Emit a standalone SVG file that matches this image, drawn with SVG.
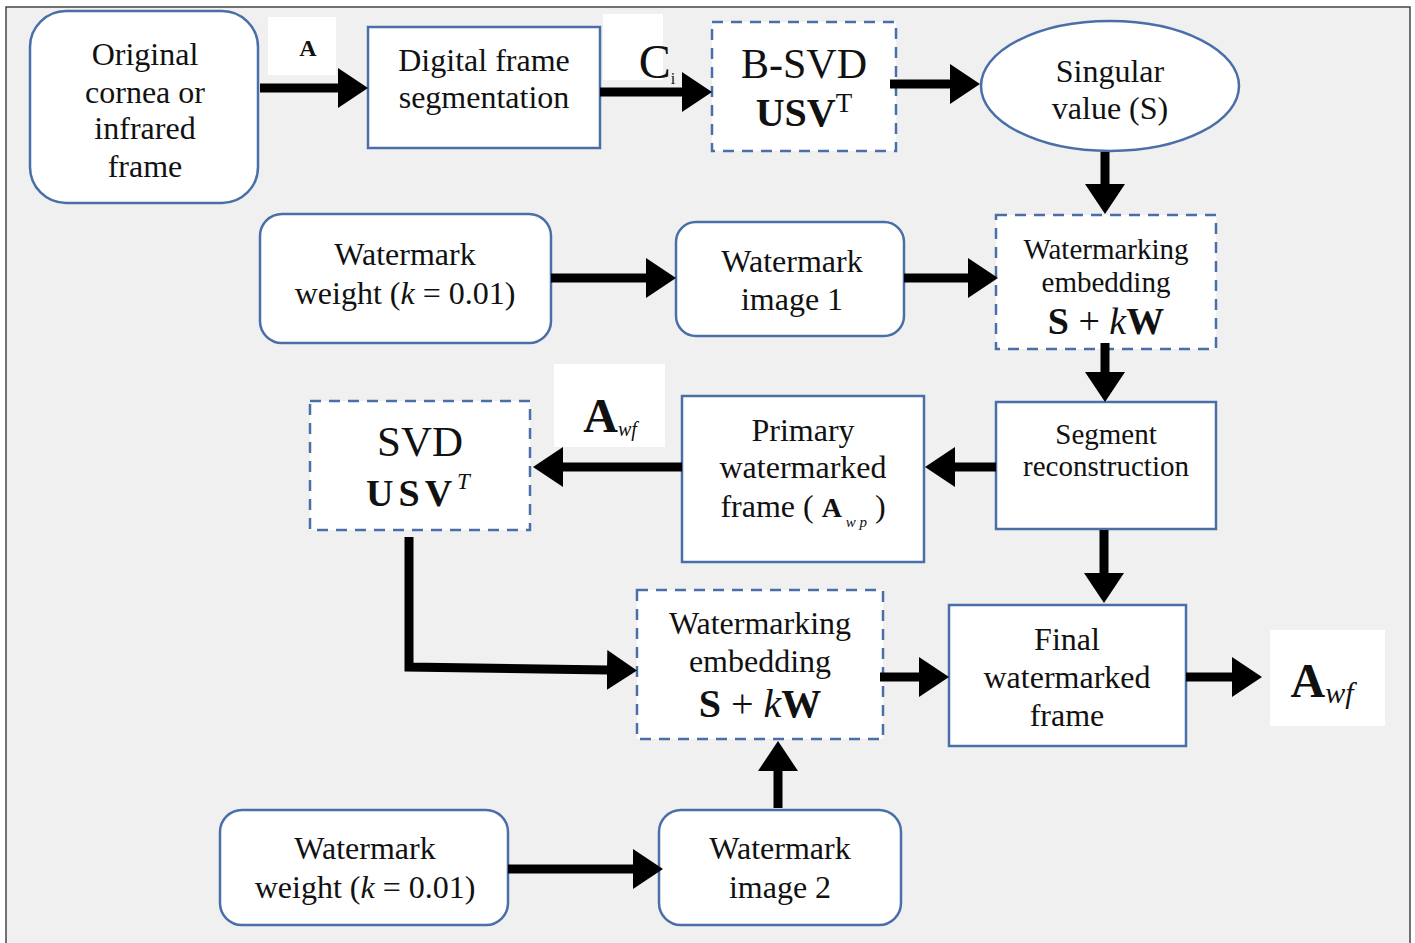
<svg xmlns="http://www.w3.org/2000/svg" width="1415" height="943" viewBox="0 0 1415 943">
<defs>
<marker id="ah" viewBox="0 0 30 40" markerWidth="30" markerHeight="40" refX="1" refY="20" orient="auto" markerUnits="userSpaceOnUse">
<path d="M0,0 L30,20 L0,40 Z" fill="#000"/>
</marker>
</defs>
<style>
.node{fill:#fff;stroke:#4a6fa8;stroke-width:2.5}
.dash{fill:#fff;stroke:#4a6fa8;stroke-width:2.5;stroke-dasharray:11 8}
.lbl{fill:#fff;stroke:none}
text{font-family:"Liberation Serif","Times New Roman",serif;fill:#111;text-anchor:middle}
.t32{font-size:32px}
.t29{font-size:29px}
.b{font-weight:bold}
.i{font-style:italic}
.conn path{fill:none;stroke:#000;stroke-width:9;marker-end:url(#ah)}
</style>
<rect x="0" y="0" width="1415" height="943" fill="#fff"/>
<rect x="6" y="7" width="1404" height="945" fill="#f0f0f0" stroke="#444" stroke-width="1.5"/>

<g id="n-original">
<rect class="node" x="30" y="11" width="228" height="192" rx="36"/>
<text class="t32" x="145" y="65">Original</text>
<text class="t32" x="145" y="103">cornea or</text>
<text class="t32" x="145" y="139">infrared</text>
<text class="t32" x="145" y="177">frame</text>
</g>
<g id="lbl-A">
<rect class="lbl" x="268" y="17" width="68" height="58"/>
<text class="b" x="308" y="56" font-size="24">A</text>
</g>
<g id="n-segmentation">
<rect class="node" x="368" y="27" width="232" height="121"/>
<text class="t32" x="484" y="71">Digital frame</text>
<text class="t32" x="484" y="108">segmentation</text>
</g>
<g id="lbl-C">
<rect class="lbl" x="603" y="14" width="60" height="66"/>
<text x="657" y="78" font-size="48">C<tspan font-size="16" dy="6">i</tspan></text>
</g>
<g id="n-bsvd">
<rect class="dash" x="712" y="22" width="184" height="129"/>
<text x="804" y="78" font-size="42">B-SVD</text>
<text x="804" y="126" font-size="40"><tspan class="b">USV</tspan><tspan font-size="27" dy="-14">T</tspan></text>
</g>
<g id="n-singular">
<ellipse class="node" cx="1110" cy="86" rx="129" ry="65"/>
<text class="t32" x="1110" y="82">Singular</text>
<text class="t32" x="1110" y="119">value (S)</text>
</g>
<g id="n-weight1">
<rect class="node" x="260" y="214" width="291" height="129" rx="22"/>
<text class="t32" x="405" y="265">Watermark</text>
<text class="t32" x="405" y="304">weight (<tspan class="i">k</tspan> = 0.01)</text>
</g>
<g id="n-image1">
<rect class="node" x="676" y="222" width="228" height="114" rx="20"/>
<text class="t32" x="792" y="272">Watermark</text>
<text class="t32" x="792" y="310">image 1</text>
</g>
<g id="n-embed1">
<rect class="dash" x="996" y="215" width="220" height="134"/>
<text class="t29" x="1106" y="259">Watermarking</text>
<text class="t29" x="1106" y="292">embedding</text>
<text x="1106" y="334" font-size="38"><tspan class="b">S</tspan> + <tspan class="i">k</tspan><tspan class="b">W</tspan></text>
</g>
<g id="n-reconstruct">
<rect class="node" x="996" y="402" width="220" height="127"/>
<text class="t29" x="1106" y="444">Segment</text>
<text class="t29" x="1106" y="476">reconstruction</text>
</g>
<g id="n-primary">
<rect class="node" x="682" y="396" width="242" height="166"/>
<text class="t32" x="803" y="441">Primary</text>
<text class="t32" x="803" y="478">watermarked</text>
<text class="t32" x="803" y="517">frame ( <tspan class="b" font-size="28">A</tspan><tspan class="i" font-size="15" dy="10"> w p</tspan><tspan dy="-10">  )</tspan></text>
</g>
<g id="lbl-Awf-mid">
<rect class="lbl" x="554" y="364" width="111" height="83"/>
<text x="610" y="432" font-size="48" class="b">A<tspan class="i" font-size="20" font-weight="normal" dy="4">wf</tspan></text>
</g>
<g id="n-svd">
<rect class="dash" x="310" y="401" width="220" height="129"/>
<text x="420" y="456" font-size="43">SVD</text>
<text x="418" y="506" font-size="38"><tspan class="b" letter-spacing="5">USV</tspan><tspan class="i" font-size="23" dy="-17">T</tspan></text>
</g>
<g id="n-embed2">
<rect class="dash" x="637" y="590" width="246" height="149"/>
<text class="t32" x="760" y="634">Watermarking</text>
<text class="t32" x="760" y="672">embedding</text>
<text x="760" y="717" font-size="40"><tspan class="b">S</tspan> + <tspan class="i">k</tspan><tspan class="b">W</tspan></text>
</g>
<g id="n-final">
<rect class="node" x="949" y="605" width="237" height="141"/>
<text class="t32" x="1067" y="650">Final</text>
<text class="t32" x="1067" y="688">watermarked</text>
<text class="t32" x="1067" y="726">frame</text>
</g>
<g id="lbl-Awf">
<rect class="lbl" x="1270" y="630" width="115" height="96"/>
<text x="1322" y="697" font-size="48" class="b">A<tspan class="i" font-size="30" font-weight="normal" dy="6">wf</tspan></text>
</g>
<g id="n-weight2">
<rect class="node" x="220" y="810" width="288" height="115" rx="22"/>
<text class="t32" x="365" y="859">Watermark</text>
<text class="t32" x="365" y="898">weight (<tspan class="i">k</tspan> = 0.01)</text>
</g>
<g id="n-image2">
<rect class="node" x="659" y="810" width="242" height="115" rx="22"/>
<text class="t32" x="780" y="859">Watermark</text>
<text class="t32" x="780" y="898">image 2</text>
</g>

<g class="conn" id="connectors">
<path d="M260,88 L339,88"/>
<path d="M600,92 L683,92"/>
<path d="M890,84 L951,84"/>
<path d="M1105,152 L1105,185"/>
<path d="M551,278 L647,278"/>
<path d="M904,278 L969,278"/>
<path d="M1105,343 L1105,373"/>
<path d="M996,467 L954,467"/>
<path d="M682,467 L562,467"/>
<path d="M1104,530 L1104,574"/>
<path d="M409,537 L409,667 L608,670"/>
<path d="M880,677 L920,677"/>
<path d="M1186,677 L1233,677"/>
<path d="M778,808 L778,770"/>
<path d="M508,869 L634,869"/>
</g>
</svg>
